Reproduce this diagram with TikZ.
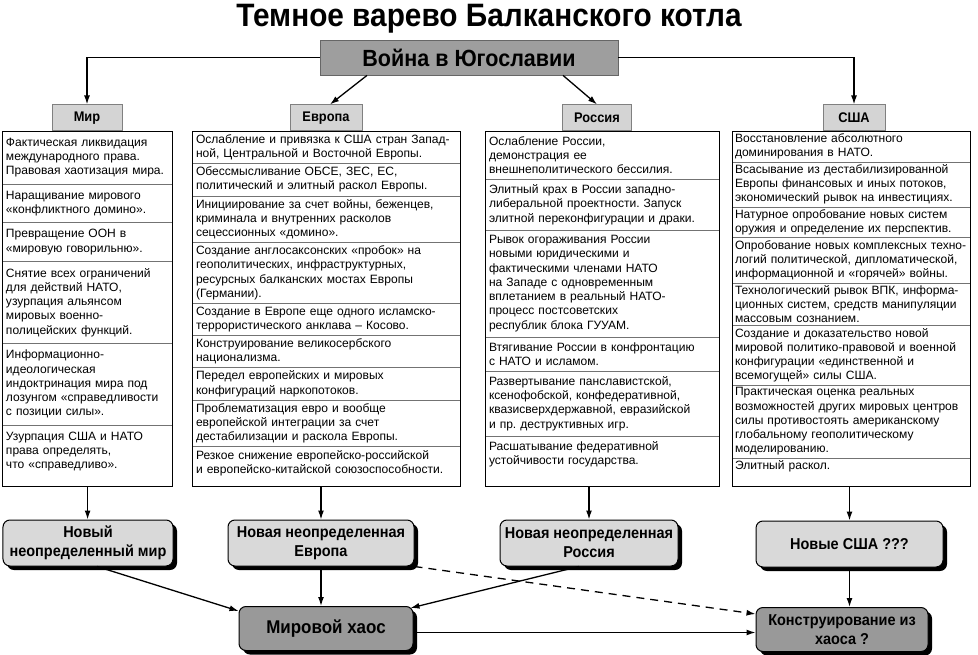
\documentclass[tikz,border=0pt]{standalone}
\usepackage{fontspec}
\setmainfont{Liberation Sans}
\newfontfamily\narrowsans[FakeStretch=0.92]{Liberation Sans}
\usetikzlibrary{arrows.meta,positioning,shadows}

\begin{document}
\begin{tikzpicture}[x=1bp,y=-1bp,
  cell/.style={draw=black!55, line width=0.5bp, outer sep=0pt, inner xsep=4bp, align=left, font=\frenchspacing\fontsize{12.1}{14.3}\selectfont},
  mircell/.style={cell, text width=162bp, inner ysep=6.8bp},
  evrcell/.style={cell, text width=260bp, inner ysep=3.4bp},
  ruscell/.style={cell, text width=226bp, inner ysep=5.4bp},
  usacell/.style={cell, text width=232bp, inner xsep=3bp, inner ysep=2.6bp},
  frame/.style={draw=black, line width=1.2bp, inner sep=0pt, minimum height=355bp, anchor=north west},
  head/.style={draw=black!50, fill=black!17, line width=0.6bp, minimum height=26bp, anchor=south, font=\narrowsans\bfseries\fontsize{14}{16}\selectfont},
  outcome/.style={draw=black, line width=1bp, rounded corners=7bp, fill=black!15, minimum height=46bp, align=center, font=\narrowsans\bfseries\fontsize{15.8}{19}\selectfont, drop shadow={shadow xshift=4bp, shadow yshift=-4bp, fill=black, opacity=1}},
  result/.style={outcome, fill=black!40, minimum height=44bp},
  conn/.style={line width=1.3bp, -{Latex[length=9bp,width=6bp]}}]
\useasboundingbox (0,0) rectangle (978,655);

\node[anchor=base, font=\narrowsans\bfseries\fontsize{32.5}{38}\selectfont] (title) at (489,27) {Темное варево Балканского котла};
\node[draw=black!60, fill=black!38, line width=0.8bp, minimum width=298bp, minimum height=35bp, font=\narrowsans\bfseries\fontsize{23.5}{28}\selectfont] (war) at (469,57.5) {Война в Югославии};

\node[head, minimum width=70bp] (mir) at (87,131) {Мир};
\node[head, minimum width=72bp] (evr) at (326,131) {Европа};
\node[head, minimum width=69bp] (rus) at (597,131) {Россия};
\node[head, minimum width=62bp] (usa) at (854,131) {США};

\node[mircell, anchor=north] (m1) at (87,131) {Фактическая ликвидация\\международного права.\\Правовая хаотизация мира.};
\node[mircell, below=0pt of m1] (m2) {Наращивание мирового\\«конфликтного домино».};
\node[mircell, below=0pt of m2] (m3) {Превращение ООН в\\«мировую говорильню».};
\node[mircell, below=0pt of m3] (m4) {Снятие всех ограничений\\для действий НАТО,\\узурпация альянсом\\мировых военно-\\полицейских функций.};
\node[mircell, below=0pt of m4] (m5) {Информационно-\\идеологическая\\индоктринация мира под\\лозунгом «справедливости\\с позиции силы».};
\node[mircell, draw=none, below=0pt of m5] (m6) {Узурпация США и НАТО\\права определять,\\что «справедливо».};
\node[frame, minimum width=170bp] (mircol) at (2,131) {};

\node[evrcell, anchor=north] (e1) at (326,131) {Ослабление и привязка к США стран Запад-\\ной, Центральной и Восточной Европы.};
\node[evrcell, below=0pt of e1] (e2) {Обессмысливание ОБСЕ, ЗЕС, ЕС,\\политический и элитный раскол Европы.};
\node[evrcell, below=0pt of e2] (e3) {Инициирование за счет войны, беженцев,\\криминала и внутренних расколов\\сецессионных «домино».};
\node[evrcell, below=0pt of e3] (e4) {Создание англосаксонских «пробок» на\\геополитических, инфраструктурных,\\ресурсных балканских мостах Европы\\(Германии).};
\node[evrcell, below=0pt of e4] (e5) {Создание в Европе еще одного исламско-\\террористического анклава – Косово.};
\node[evrcell, below=0pt of e5] (e6) {Конструирование великосербского\\национализма.};
\node[evrcell, below=0pt of e6] (e7) {Передел европейских и мировых\\конфигураций наркопотоков.};
\node[evrcell, below=0pt of e7] (e8) {Проблематизация евро и вообще\\европейской интеграции за счет\\дестабилизации и раскола Европы.};
\node[evrcell, draw=none, below=0pt of e8] (e9) {Резкое снижение европейско-российской\\и европейско-китайской союзоспособности.};
\node[frame, minimum width=268bp] (evrcol) at (192,131) {};

\node[ruscell, anchor=north] (r1) at (602,131) {Ослабление России,\\демонстрация ее\\внешнеполитического бессилия.};
\node[ruscell, below=0pt of r1] (r2) {Элитный крах в России западно-\\либеральной проектности. Запуск\\элитной переконфигурации и драки.};
\node[ruscell, below=0pt of r2] (r3) {Рывок огораживания России\\новыми юридическими и\\фактическими членами НАТО\\на Западе с одновременным\\вплетанием в реальный НАТО-\\процесс постсоветских\\республик блока ГУУАМ.};
\node[ruscell, below=0pt of r3] (r4) {Втягивание России в конфронтацию\\с НАТО и исламом.};
\node[ruscell, below=0pt of r4] (r5) {Развертывание панславистской,\\ксенофобской, конфедеративной,\\квазисверхдержавной, евразийской\\и пр. деструктивных игр.};
\node[ruscell, draw=none, below=0pt of r5] (r6) {Расшатывание федеративной\\устойчивости государства.};
\node[frame, minimum width=234bp] (ruscol) at (485,131) {};

\node[usacell, anchor=north] (u1) at (851,131) {Восстановление абсолютного\\доминирования в НАТО.};
\node[usacell, below=0pt of u1] (u2) {Всасывание из дестабилизированной\\Европы финансовых и иных потоков,\\экономический рывок на инвестициях.};
\node[usacell, below=0pt of u2] (u3) {Натурное опробование новых систем\\оружия и определение их перспектив.};
\node[usacell, below=0pt of u3] (u4) {Опробование новых комплексных техно-\\логий политической, дипломатической,\\информационной и «горячей» войны.};
\node[usacell, below=0pt of u4] (u5) {Технологический рывок ВПК, информа-\\ционных систем, средств манипуляции\\массовым сознанием.};
\node[usacell, below=0pt of u5] (u6) {Создание и доказательство новой\\мировой политико-правовой и военной\\конфигурации «единственной и\\всемогущей» силы США.};
\node[usacell, below=0pt of u6] (u7) {Практическая оценка реальных\\возможностей других мировых центров\\силы противостоять американскому\\глобальному геополитическому\\моделированию.};
\node[usacell, draw=none, below=0pt of u7] (u8) {Элитный раскол.};
\node[frame, minimum width=238bp] (usacol) at (732,131) {};

\node[outcome, minimum width=170bp] (newmir) at (88,543) {Новый\\неопределенный мир};
\node[outcome, minimum width=186bp] (newevr) at (321,543) {Новая неопределенная\\Европа};
\node[outcome, minimum width=178bp] (newrus) at (589,543) {Новая неопределенная\\Россия};
\node[outcome, minimum width=187bp] (newusa) at (849.5,544) {Новые США ???};
\node[result, minimum width=174bp, font=\narrowsans\bfseries\fontsize{18.5}{22}\selectfont] (xaos) at (326,628.5) {Мировой хаос};
\node[result, minimum width=172bp] (constr) at (842,629.5) {Конструирование из\\хаоса ?};

\draw[conn] (war.west) -| (mir.north);
\draw[conn] (war.east) -| (usa.north);
\draw[conn] ([xshift=-102bp]war.south) -- ([xshift=4bp]evr.north);
\draw[conn] ([xshift=94bp]war.south) -- (rus.north);

\draw[conn] (mircol.south) -- (mircol.south |- newmir.north);
\draw[conn] (newevr.north |- evrcol.south) -- (newevr.north);
\draw[conn] (newrus.north |- ruscol.south) -- (newrus.north);
\draw[conn] (newusa.north |- usacol.south) -- (newusa.north);

\draw[conn] ([xshift=9bp]newmir.south) -- ([yshift=-5bp]xaos.north west);
\draw[conn] (newevr.south) -- (newevr.south |- xaos.north);
\draw[conn] ([xshift=-10bp]newrus.south) -- ([xshift=-3bp,yshift=-2bp]xaos.north east);
\draw[conn, dash pattern=on 8bp off 6bp] (newevr.south east) -- ([yshift=-7bp]constr.north west);
\draw[conn] ([yshift=-4bp]xaos.east) -- ([yshift=-4bp]xaos.east -| constr.west);
\draw[conn] (newusa.south) -- (newusa.south |- constr.north);
\end{tikzpicture}
\end{document}
